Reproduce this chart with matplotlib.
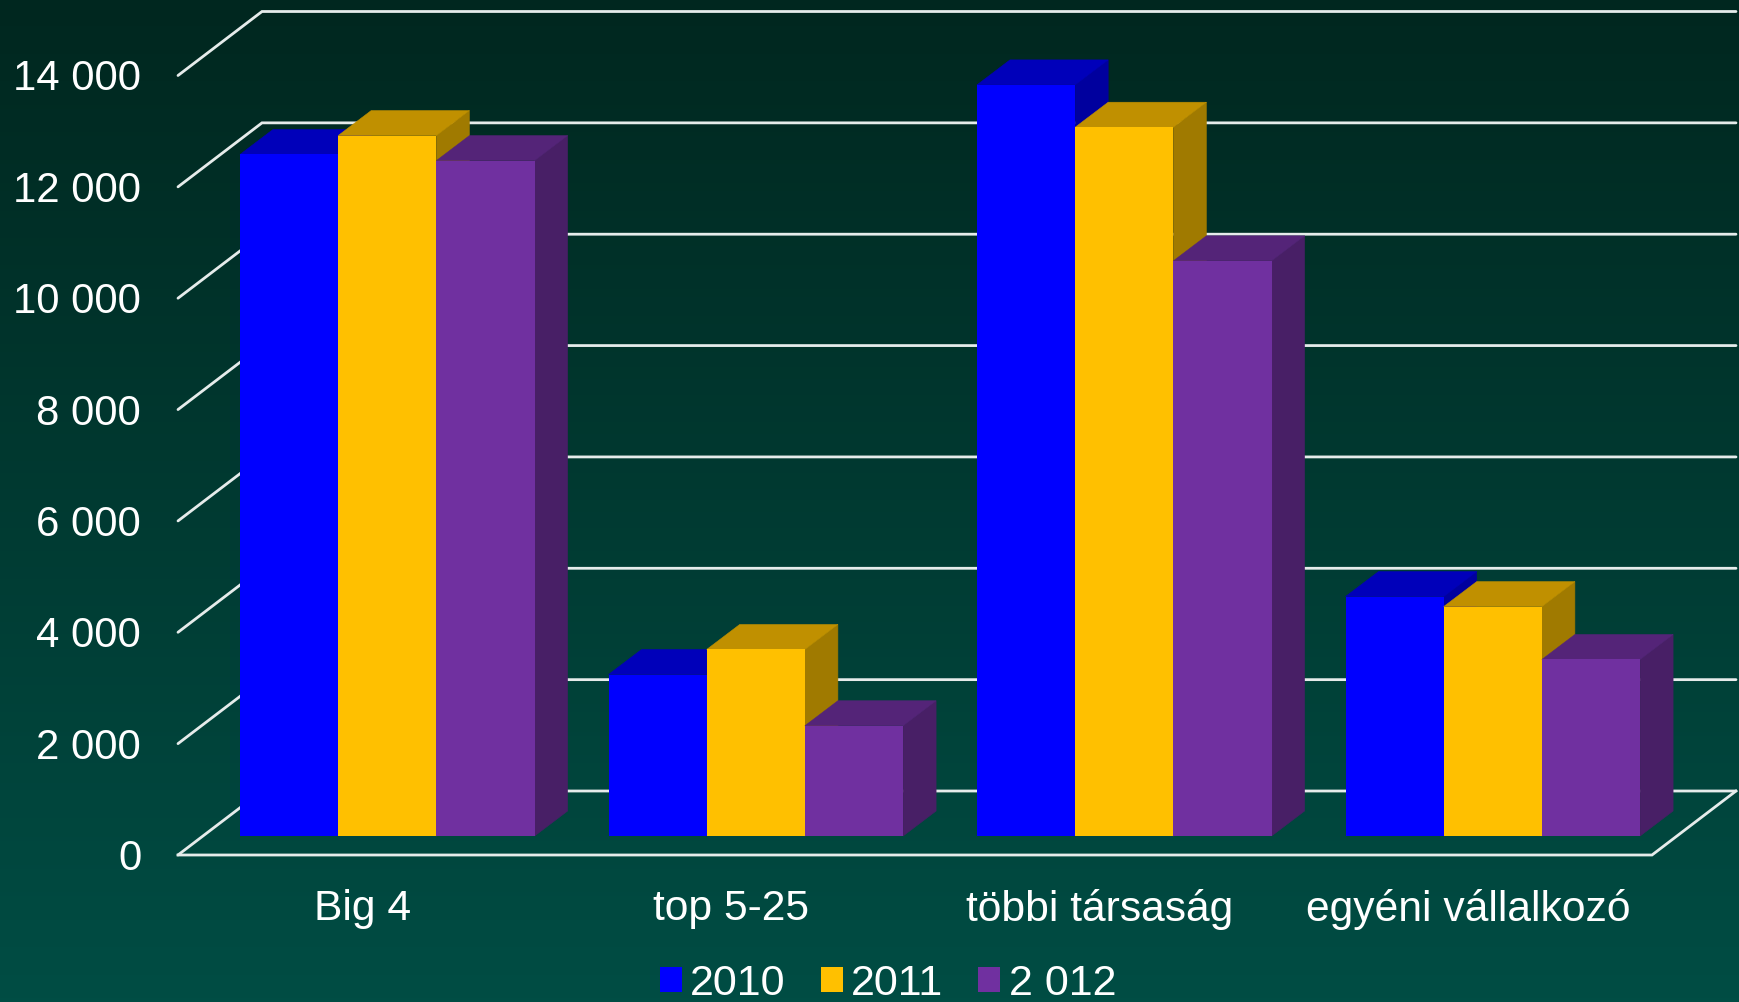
import numpy as np
import matplotlib
matplotlib.use("Agg")
import matplotlib.pyplot as plt
from matplotlib.patches import Polygon
from matplotlib.colors import LinearSegmentedColormap
from matplotlib.transforms import ScaledTranslation

# Data
categories = ["Big 4", "top 5-25", "többi társaság", "egyéni vállalkozó"]
series_names = ["2010", "2011", "2 012"]
values_2010 = [12240, 2900, 13490, 4300]
values_2011 = [12580, 3350, 12730, 4120]
values_2012 = [12130, 1980, 10330, 3170]
y_ticks = [0, 2000, 4000, 6000, 8000, 10000, 12000, 14000]
y_tick_labels = ["0", "2 000", "4 000", "6 000", "8 000", "10 000", "12 000", "14 000"]

# Styles
front_colors = ["#0000FF", "#FFC000", "#7030A0"]
top_colors = ["#0000BA", "#C09000", "#542478"]
side_colors = ["#00009E", "#A07A00", "#481F66"]
grid_color = "#E6ECEB"

W, H = 1739, 1003
L, R, T, B = 178, 1652, 76.5, 856     # front plane of the plot, in pixels
plt.rcParams["font.family"] = ["Liberation Sans", "DejaVu Sans"]
fig = plt.figure(figsize=(W / 100, H / 100), dpi=100)

# Background gradient
bg = fig.add_axes([0, 0, 1, 1], zorder=0)
cmap = LinearSegmentedColormap.from_list("bg", ["#00271F", "#004D44"])
bg.imshow(np.linspace(0, 1, 256).reshape(-1, 1), aspect="auto", cmap=cmap)
bg.axis("off")

ax = fig.add_axes([L / W, 1 - B / H, (R - L) / W, (B - T) / H], zorder=1)
ax.patch.set_alpha(0)
ax.set_xlim(0, len(categories))
ax.set_ylim(0, 14000)
for s in ax.spines.values():
    s.set_visible(False)

px_x = len(categories) / (R - L)    # data units per pixel
px_y = 14000 / (B - T)

# 3D offsets in pixels
wall_dx, wall_dy = 84 * px_x, 64 * px_y
base_dx, base_dy = 62 * px_x, 19 * px_y
depth_dx, depth_dy = 33 * px_x, 25 * px_y
bar_w = 98.2 * px_x
n = len(categories)

# Grid: side wall lines and back wall lines
lw = 2.0
for t in y_ticks:
    ax.plot([0, wall_dx, n + wall_dx - 0.0], [t, t + wall_dy, t + wall_dy],
            color=grid_color, lw=lw, clip_on=False, zorder=1, solid_capstyle="round",
            solid_joinstyle="miter")
# Floor
ax.plot([0, n, n + wall_dx], [0, 0, wall_dy], color=grid_color, lw=lw,
        clip_on=False, zorder=1, solid_joinstyle="miter")

# Bars
all_values = [values_2010, values_2011, values_2012]
for j, vals in enumerate(all_values):
    x0 = np.arange(n) + base_dx + j * bar_w
    for x, v in zip(x0, vals):
        top = base_dy + v
        ax.add_patch(Polygon([(x + bar_w, base_dy), (x + bar_w + depth_dx, base_dy + depth_dy),
                              (x + bar_w + depth_dx, top + depth_dy), (x + bar_w, top)],
                             closed=True, fc=side_colors[j], ec=side_colors[j], lw=0.4,
                             zorder=3 + j, clip_on=False))
        ax.add_patch(Polygon([(x, top), (x + depth_dx, top + depth_dy),
                              (x + bar_w + depth_dx, top + depth_dy), (x + bar_w, top)],
                             closed=True, fc=top_colors[j], ec=top_colors[j], lw=0.4,
                             zorder=3 + j, clip_on=False))
    ax.bar(x0, vals, width=bar_w, bottom=base_dy, align="edge", color=front_colors[j],
           label=series_names[j], zorder=3.5 + j, clip_on=False, lw=0)

# Axes labels
ax.set_yticks(y_ticks, y_tick_labels)
ax.set_xticks(np.arange(n) + 0.5, categories)
ax.tick_params(axis="y", length=0, pad=26.5, labelsize=30.2, labelcolor="white")
ax.tick_params(axis="x", length=0, pad=23.5, labelsize=30.7, labelcolor="white")
lift = ScaledTranslation(0, 1.5 / 100, fig.dpi_scale_trans)
for lab in ax.get_yticklabels():
    lab.set_transform(lab.get_transform() + lift)

# Legend
ax.legend(loc="center", bbox_to_anchor=(888 / W, 1 - 984.5 / H), bbox_transform=fig.transFigure,
          ncol=3, frameon=False, fontsize=31, labelcolor="white", borderpad=0, borderaxespad=0,
          handlelength=0.51, handleheight=0.51, handletextpad=0.19, columnspacing=0.82)

fig.savefig("out.png", dpi=100)
